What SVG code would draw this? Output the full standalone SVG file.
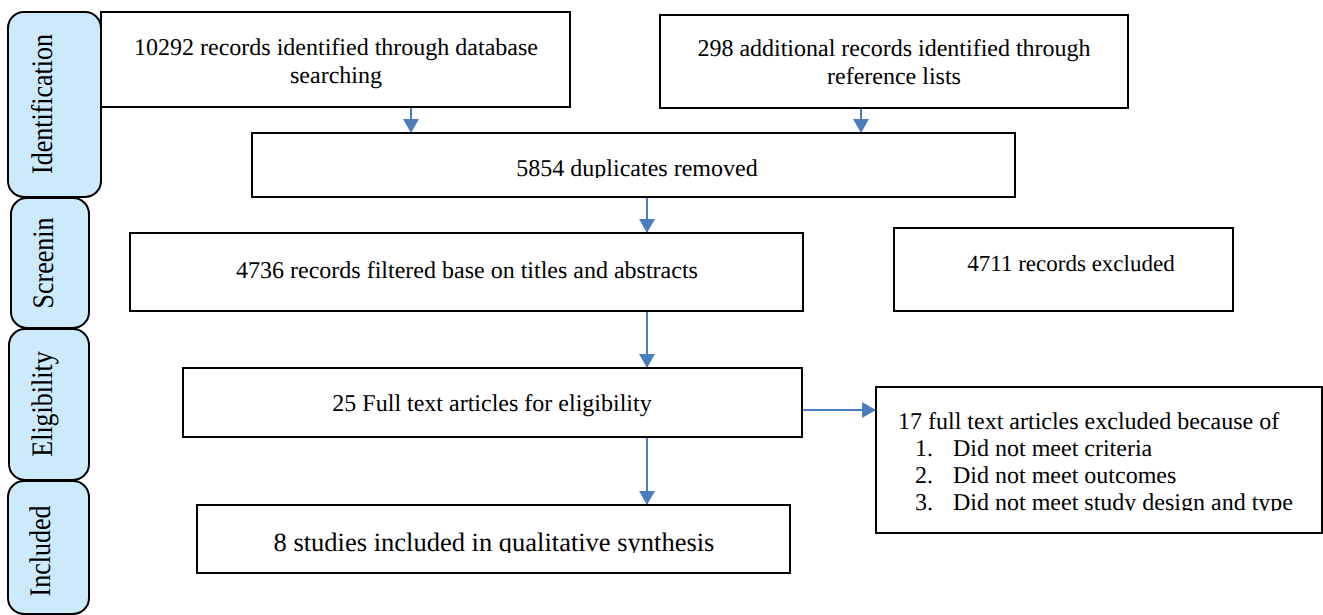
<svg xmlns="http://www.w3.org/2000/svg" width="1323" height="615" viewBox="0 0 1323 615" font-family="'Liberation Serif', 'Times New Roman', serif">
<style>
.box{fill:#fff;stroke:#000;stroke-width:2}
.tab{fill:#cdeafd;stroke:#000;stroke-width:2}
text{fill:#000;text-rendering:geometricPrecision}
.t{font-size:24px}
.m{text-anchor:middle}
.tt{font-size:26px;text-anchor:middle}
.conn{stroke:#4a7ebb;stroke-width:2;fill:none;marker-end:url(#ah)}
</style>
<defs>
<marker id="ah" viewBox="0 0 14 16" refX="14" refY="8" markerWidth="14" markerHeight="16" markerUnits="userSpaceOnUse" orient="auto">
<path d="M0,0 L14,8 L0,16 z" fill="#4a7ebb"/>
</marker>
<clipPath id="c3"><rect x="252" y="133" width="763" height="45"/></clipPath>
<clipPath id="c7"><rect x="876" y="387" width="446" height="124"/></clipPath>
<clipPath id="c8"><rect x="197" y="505" width="593" height="48"/></clipPath>
</defs>
<rect width="1323" height="615" fill="#fff"/>

<g id="tab-identification">
<rect class="tab" x="8" y="12" width="93" height="185" rx="16"/>
<text class="tt" font-family="Liberation Serif, serif" transform="translate(52,104) rotate(-90) scale(1,1.15)">Identification</text>
</g>
<g id="tab-screening">
<rect class="tab" x="11" y="198" width="78" height="130" rx="16"/>
<text class="tt" font-family="Liberation Serif, serif" transform="translate(53,263) rotate(-90) scale(1,1.15)">Screenin</text>
</g>
<g id="tab-eligibility">
<rect class="tab" x="9" y="329" width="80" height="151" rx="16"/>
<text class="tt" font-family="Liberation Serif, serif" transform="translate(52,404) rotate(-90) scale(1,1.15)">Eligibility</text>
</g>
<g id="tab-included">
<rect class="tab" x="8" y="481" width="81" height="133" rx="16"/>
<text class="tt" font-family="Liberation Serif, serif" transform="translate(50,551) rotate(-90) scale(1,1.15)">Included</text>
</g>

<g id="connectors">
<line class="conn" x1="411" y1="107" x2="411" y2="133"/>
<line class="conn" x1="861" y1="108" x2="861" y2="133"/>
<line class="conn" x1="647" y1="197" x2="647" y2="233"/>
<line class="conn" x1="647" y1="311" x2="647" y2="368"/>
<line class="conn" x1="802" y1="410" x2="876" y2="410"/>
<line class="conn" x1="647" y1="437" x2="647" y2="505"/>
</g>

<g id="n1" font-family="Liberation Serif, serif">
<rect class="box" x="101" y="12" width="469" height="95"/>
<text class="t m" x="336" y="55">10292 records identified through database</text>
<text class="t m" x="336" y="83">searching</text>
</g>
<g id="n2" font-family="Liberation Serif, serif">
<rect class="box" x="660" y="15" width="468" height="93"/>
<text class="t m" x="894" y="56">298 additional records identified through</text>
<text class="t m" x="894" y="84">reference lists</text>
</g>
<g id="n3" font-family="Liberation Serif, serif">
<rect class="box" x="252" y="133" width="763" height="64"/>
<text class="t m" x="637" y="176" clip-path="url(#c3)">5854 duplicates removed</text>
</g>
<g id="n4" font-family="Liberation Serif, serif">
<rect class="box" x="130" y="233" width="673" height="78"/>
<text class="t m" x="467" y="278">4736 records filtered base on titles and abstracts</text>
</g>
<g id="n5" font-family="Liberation Serif, serif">
<rect class="box" x="894" y="228" width="339" height="83"/>
<text class="t m" x="1071" y="271" style="font-size:23px">4711 records excluded</text>
</g>
<g id="n6" font-family="Liberation Serif, serif">
<rect class="box" x="183" y="368" width="619" height="69"/>
<text class="t m" x="492" y="411">25 Full text articles for eligibility</text>
</g>
<g id="n7" font-family="Liberation Serif, serif">
<rect class="box" x="876" y="387" width="446" height="146"/>
<g clip-path="url(#c7)">
<text class="t" x="898" y="429">17 full text articles excluded because of</text>
<text class="t" x="915" y="456">1.</text><text class="t" x="953" y="456">Did not meet criteria</text>
<text class="t" x="915" y="483">2.</text><text class="t" x="953" y="483">Did not meet outcomes</text>
<text class="t" x="915" y="510">3.</text><text class="t" x="953" y="510">Did not meet study design and type</text>
</g>
</g>
<g id="n8" font-family="Liberation Serif, serif">
<rect class="box" x="197" y="505" width="593" height="68"/>
<text class="t m" x="494" y="551" style="font-size:26.5px" clip-path="url(#c8)">8 studies included in qualitative synthesis</text>
</g>
</svg>
